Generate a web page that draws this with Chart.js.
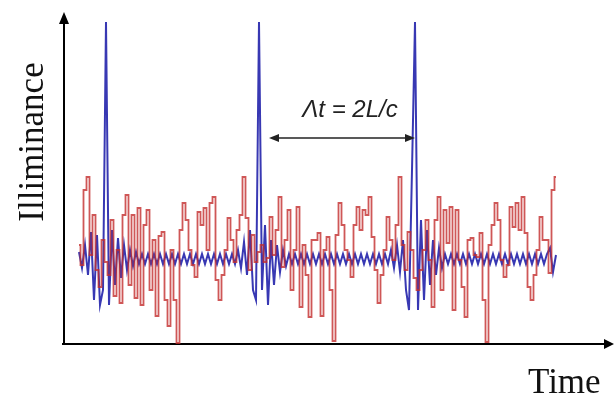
<!DOCTYPE html>
<html>
<head>
<meta charset="utf-8">
<script src="https://cdn.jsdelivr.net/npm/chart.js@4.4.1/dist/chart.umd.min.js"></script>
<style>
  html, body { margin: 0; padding: 0; background: #fff; }
  #wrap { width: 616px; height: 397px; }
</style>
</head>
<body>
<div id="wrap"><canvas id="chart"></canvas></div>
<script>
// sampling of the trace (time units, one unit = one step of the plot)
const startTime = 15;
const sampleStep = 3;

// red trace: noisy illuminance
const redValues = [
  99, 79, 154, 167, 89, 129, 74, 57, 104, 82,
  69, 124, 48, 94, 41, 129, 149, 59, 129, 46,
  136, 39, 119, 134, 54, 104, 28, 108, 112, 44,
  18, 94, 44, 1, 114, 141, 124, 94, 79, 67,
  132, 119, 136, 94, 141, 147, 64, 44, 69, 94,
  126, 104, 82, 114, 129, 167, 126, 74, 109, 82,
  92, 99, 82, 86, 127, 89, 114, 147, 77, 104,
  134, 54, 94, 137, 37, 99, 69, 27, 104, 104,
  111, 28, 94, 107, 54, 3, 109, 141, 119, 94,
  84, 67, 119, 137, 114, 134, 129, 147, 107, 74,
  41, 69, 94, 127, 104, 84, 119, 167, 99, 74,
  112, 94, 66, 54, 74, 94, 124, 84, 37, 124,
  147, 54, 134, 101, 137, 34, 134, 84, 57, 27,
  104, 106, 89, 87, 111, 44, 2, 99, 119, 141,
  124, 84, 67, 79, 137, 117, 141, 114, 147, 111,
  57, 44, 69, 94, 127, 104, 104, 71, 154, 167
];

// blue trace: reflected pulses riding on a small ripple
const blueValues = [
  92, 76, 99, 69, 112, 44, 109, 39, 54, 322,
  39, 114, 59, 106, 66, 99, 74, 94, 78, 92, 80,
  90, 80, 90, 80, 90, 80, 90, 80, 90, 80, 90, 80, 90, 80, 90, 80,
  90, 80, 90, 80, 90, 80, 90, 80, 90, 80, 90, 80, 90, 80, 90, 80,
  94, 76, 102, 69, 114, 54, 44, 322, 54, 119, 39, 104, 59, 99, 72, 94, 78,
  90, 80, 90, 80, 90, 80, 90, 80, 90, 80, 90, 80, 90, 80, 90, 80, 90,
  80, 90, 80, 90, 80, 90, 80, 90, 80, 90, 80, 90, 80, 90, 80, 90, 80,
  94, 76, 99, 72, 104, 54, 34, 174, 322, 34, 124, 44, 114, 59, 104, 69, 96, 76,
  90, 80, 90, 80, 90, 80, 90, 80, 90, 80, 90, 80, 90, 80, 90, 80, 90, 80,
  90, 80, 90, 80, 90, 80, 90, 80, 90, 80, 90, 80, 90, 80, 90, 80, 90,
  96, 72, 89
];

const times = redValues.map((_, i) => startTime + i * sampleStep);

const xLabel = "Time";
const yLabel = "Illiminance";
const noteText = "\u039Bt = 2L/c";

function toPoints(values) {
  return values.map((v, i) => ({ x: times[i], y: v }));
}

// times of the tall pulses, found from the blue trace
const pulseTimes = times.filter((t, i) => blueValues[i] > 300);

const decorPlugin = {
  id: "decor",
  beforeDatasetsDraw(chart) {
    const ctx = chart.ctx;
    const area = chart.chartArea;
    ctx.save();
    ctx.strokeStyle = "#000";
    ctx.fillStyle = "#000";
    // y axis with arrow
    ctx.lineWidth = 2;
    ctx.beginPath();
    ctx.moveTo(area.left, area.bottom + 1);
    ctx.lineTo(area.left, area.top + 8);
    ctx.stroke();
    ctx.beginPath();
    ctx.moveTo(area.left, area.top - 2);
    ctx.lineTo(area.left - 5, area.top + 10);
    ctx.lineTo(area.left + 5, area.top + 10);
    ctx.closePath();
    ctx.fill();
    // x axis with arrow
    ctx.beginPath();
    ctx.moveTo(area.left - 2, area.bottom);
    ctx.lineTo(area.right - 6, area.bottom);
    ctx.stroke();
    ctx.beginPath();
    ctx.moveTo(area.right, area.bottom);
    ctx.lineTo(area.right - 10, area.bottom - 5);
    ctx.lineTo(area.right - 10, area.bottom + 5);
    ctx.closePath();
    ctx.fill();
    ctx.restore();
  },
  afterDraw(chart) {
    const ctx = chart.ctx;
    const xs = chart.scales.x;
    const ys = chart.scales.y;
    ctx.save();
    ctx.fillStyle = "#111";
    // axis titles
    ctx.font = "35px 'Liberation Serif', serif";
    ctx.textAlign = "left";
    ctx.textBaseline = "alphabetic";
    ctx.fillText(xLabel, 528, 393);
    ctx.save();
    ctx.translate(43, 142);
    ctx.rotate(-Math.PI / 2);
    ctx.textAlign = "center";
    ctx.fillText(yLabel, 0, 0);
    ctx.restore();

    // delay annotation between the 2nd and 3rd pulse
    const x1 = xs.getPixelForValue(pulseTimes[1]) + 10;
    const x2 = xs.getPixelForValue(pulseTimes[2]);
    const ay = ys.getPixelForValue(206);
    ctx.strokeStyle = "#222";
    ctx.fillStyle = "#222";
    ctx.lineWidth = 1.5;
    ctx.beginPath();
    ctx.moveTo(x1 + 6, ay);
    ctx.lineTo(x2 - 6, ay);
    ctx.stroke();
    ctx.beginPath();
    ctx.moveTo(x1, ay);
    ctx.lineTo(x1 + 10, ay - 4);
    ctx.lineTo(x1 + 10, ay + 4);
    ctx.closePath();
    ctx.fill();
    ctx.beginPath();
    ctx.moveTo(x2, ay);
    ctx.lineTo(x2 - 10, ay - 4);
    ctx.lineTo(x2 - 10, ay + 4);
    ctx.closePath();
    ctx.fill();
    ctx.font = "italic 24px 'Liberation Sans', sans-serif";
    ctx.textAlign = "center";
    ctx.fillText(noteText, (x1 + x2) / 2 + 8, ys.getPixelForValue(227));
    ctx.restore();
  }
};

new Chart(document.getElementById("chart"), {
  type: "line",
  data: {
    datasets: [
      {
        label: "red",
        data: toPoints(redValues),
        borderColor: "rgba(195, 45, 45, 0.8)",
        borderWidth: 1.8,
        pointRadius: 0,
        stepped: "middle",
        tension: 0,
      },
      {
        label: "blue",
        data: toPoints(blueValues),
        borderColor: "rgba(45, 45, 175, 0.95)",
        borderWidth: 2,
        pointRadius: 0,
        tension: 0,
      },
    ],
  },
  options: {
    responsive: true,
    maintainAspectRatio: false,
    animation: false,
    layout: { padding: { left: 64, top: 14, right: 2, bottom: 53 } },
    plugins: { legend: { display: false }, tooltip: { enabled: false } },
    scales: {
      x: { type: "linear", min: 0, max: 550, display: false },
      y: { min: 0, max: 330, display: false },
    },
  },
  plugins: [decorPlugin],
});
</script>
</body>
</html>
